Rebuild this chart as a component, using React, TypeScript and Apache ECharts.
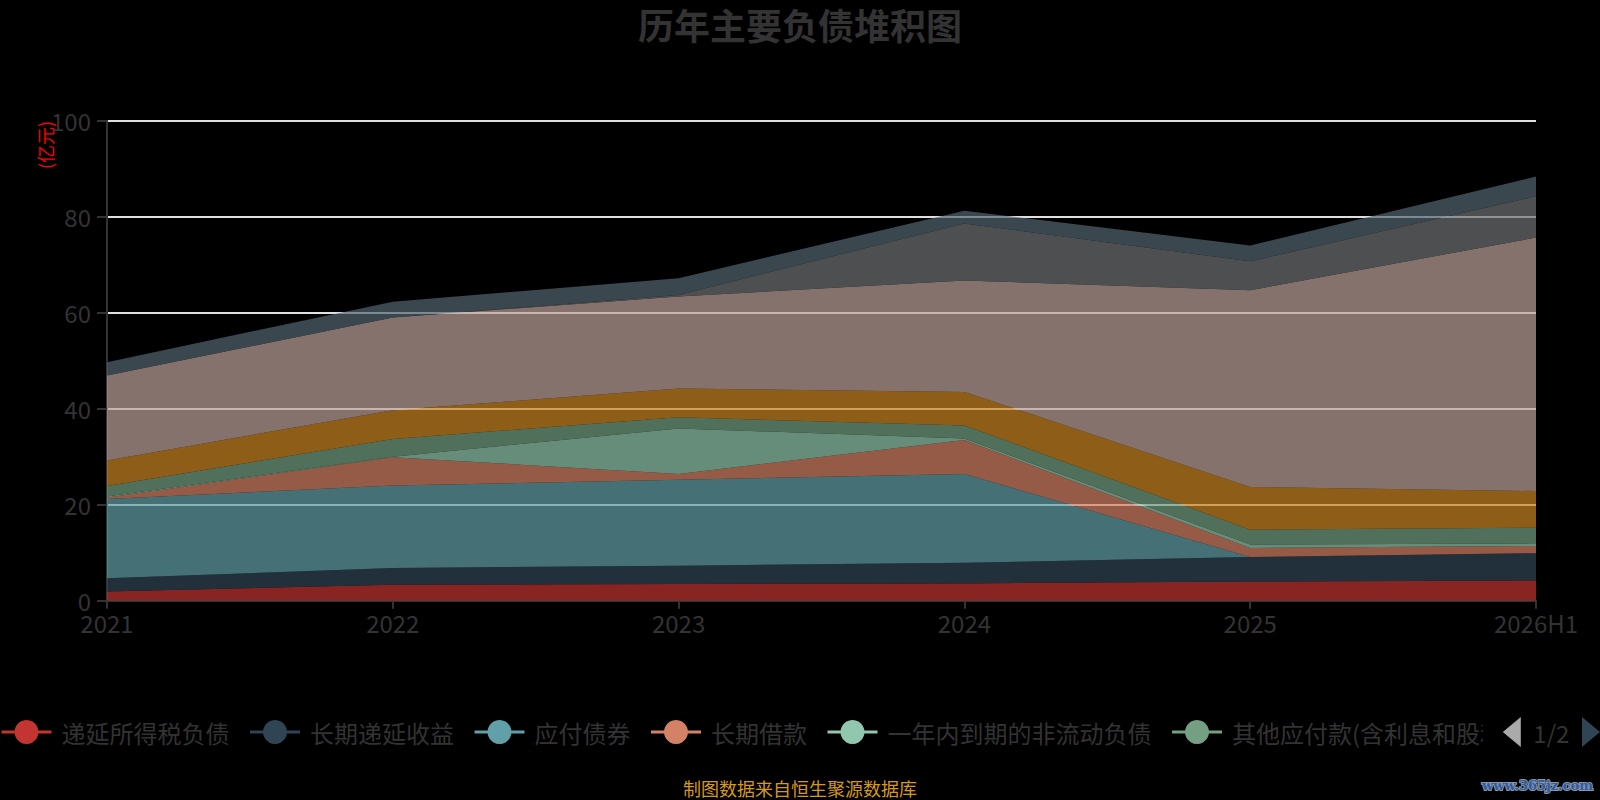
import React, { useEffect, useRef } from "react";
import * as echarts from "echarts";

const categories = ["2021", "2022", "2023", "2024", "2025", "2026H1"];
const seriesNames = [
  "递延所得税负债",
  "长期递延收益",
  "应付债券",
  "长期借款",
  "一年内到期的非流动负债",
  "其他应付款(含利息和股利)",
  "合同负债",
  "应付账款",
  "应付票据",
  "短期借款",
];
const deferredTaxLiab = [1.9, 3.3, 3.5, 3.6, 4.0, 4.2];
const deferredIncome = [2.8, 3.5, 3.8, 4.3, 5.1, 5.7];
const bondsPayable = [16.5, 17.2, 17.9, 18.5, 0, 0];
const longTermLoans = [0.3, 5.9, 1.2, 7.1, 1.9, 1.5];
const currentNonCurrent = [0.2, 0.1, 9.5, 0.3, 0.7, 0.55];
const otherPayables = [2.2, 3.7, 2.3, 2.7, 3.1, 3.25];
const contractLiab = [5.3, 6.0, 6.0, 7.0, 8.9, 7.65];
const accountsPayable = [17.7, 19.3, 19.2, 23.2, 41.0, 52.8];
const notesPayable = [0, 0, 0.3, 11.9, 6.0, 8.6];
const shortLoans = [2.8, 3.3, 3.5, 2.65, 3.3, 4.1];
const yTicks = [0, 20, 40, 60, 80, 100];

const seriesValues = [
  deferredTaxLiab,
  deferredIncome,
  bondsPayable,
  longTermLoans,
  currentNonCurrent,
  otherPayables,
  contractLiab,
  accountsPayable,
  notesPayable,
  shortLoans,
];

const palette = [
  "#c23531",
  "#2f4554",
  "#61a0a8",
  "#d48265",
  "#91c7ae",
  "#749f83",
  "#ca8622",
  "#bda29a",
  "#6e7074",
  "#546570",
  "#c4ccd3",
];

const FONT = '"Noto Sans CJK SC", "Noto Sans", sans-serif';

export default function App() {
  const ref = useRef<HTMLDivElement>(null);
  useEffect(() => {
    if (!ref.current) return;
    const chart = echarts.init(ref.current, null, { renderer: "svg" });
    const option: any = {
      animation: false,
      backgroundColor: "#000",
      color: palette,
      textStyle: { fontFamily: FONT },
      title: {
        text: "历年主要负债堆积图",
        left: "center",
        top: 1,
        textStyle: { fontSize: 36, fontWeight: "bold", color: "#333", fontFamily: FONT },
      },
      legend: {
        type: "scroll",
        data: seriesNames,
        left: 0,
        right: 0,
        top: 717,
        padding: 0,
        itemWidth: 50,
        itemHeight: 30,
        itemGap: 19,
        lineStyle: { width: 3, opacity: 1 },
        textStyle: { fontSize: 24, color: "#333", fontFamily: FONT, padding: [0, 0, 0, 5] },
        pageIconColor: "#2f4554",
        pageIconInactiveColor: "#aaa",
        pageIconSize: [18, 30],
        pageButtonItemGap: 2,
        pageButtonGap: 20,
        pageTextStyle: { fontSize: 24, color: "#333", fontFamily: FONT },
      },
      grid: { left: 107, right: 64, top: 120.7, bottom: 199.3, containLabel: false },
      xAxis: {
        type: "category",
        boundaryGap: false,
        data: categories,
        axisLine: { lineStyle: { color: "#333", width: 2 } },
        axisTick: { show: true, length: 8, lineStyle: { color: "#333", width: 2 } },
        axisLabel: { fontSize: 24, color: "#333", margin: 10, fontFamily: FONT },
        splitLine: { show: false },
      },
      yAxis: {
        type: "value",
        min: yTicks[0],
        max: yTicks[yTicks.length - 1],
        interval: 20,
        axisLine: { show: true, lineStyle: { color: "#333", width: 2 } },
        axisTick: { show: true, length: 10, lineStyle: { color: "#333", width: 2 } },
        axisLabel: { fontSize: 24, color: "#333", margin: 16, fontFamily: FONT },
        splitLine: { show: true, lineStyle: { color: "#e0e0e0", width: 2 } },
      },
      graphic: [
        {
          type: "text",
          x: 45,
          y: 145,
          rotation: Math.PI / 2,
          style: {
            text: "(亿元)",
            fill: "#ff0000",
            fontSize: 18,
            fontFamily: FONT,
            align: "center",
            verticalAlign: "middle",
          },
        },
        {
          type: "text",
          x: 800,
          y: 788,
          style: {
            text: "制图数据来自恒生聚源数据库",
            fill: "#d49a1f",
            fontSize: 18,
            fontFamily: FONT,
            align: "center",
            verticalAlign: "middle",
          },
        },
        {
          type: "text",
          x: 1593,
          y: 785,
          style: {
            text: "www.365jz.com",
            fill: "#2d5aa0",
            stroke: "#8a97a8",
            lineWidth: 2,
            fontSize: 13,
            fontWeight: "bold",
            fontFamily: '"DejaVu Serif", serif',
            align: "right",
            verticalAlign: "middle",
          },
        },
      ],
      series: seriesNames.map((name, i) => ({
        name,
        type: "line",
        stack: "total",
        data: seriesValues[i],
        symbol: "circle",
        showSymbol: false,
        lineStyle: { width: 0 },
        areaStyle: { opacity: 0.7 },
        emphasis: { disabled: true },
      })),
    };
    chart.setOption(option);
    return () => chart.dispose();
  }, []);
  return (
    <div
      ref={ref}
      style={{ position: "absolute", left: 0, top: 0, width: 1600, height: 800 }}
    />
  );
}
